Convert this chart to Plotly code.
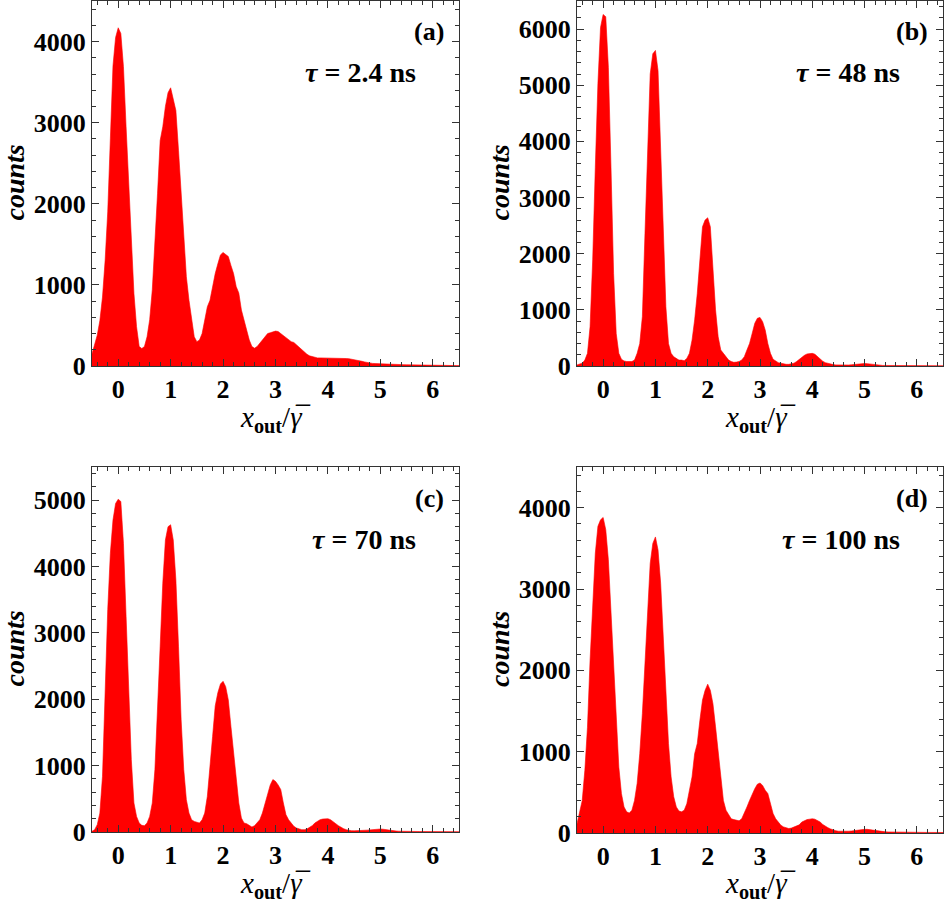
import numpy as np
import plotly.graph_objects as go

# bin centres shared by all four histograms (x_out / gamma-bar)
x_bins = np.round(np.arange(-0.5, 6.5001, 0.05), 2)

counts_a = [
    150, 250, 380, 560, 850, 1300, 1900, 2800, 3700, 4050,
    4170, 4100, 3690, 2950, 2210, 1470, 895, 485, 240, 215,
    240, 360, 570, 940, 1470, 2130, 2780, 2950, 3200, 3370,
    3430, 3300, 3150, 2660, 2170, 1550, 1100, 810, 570, 360,
    300, 320, 400, 570, 730, 810, 980, 1140, 1260, 1370,
    1400, 1380, 1350, 1240, 1140, 980, 900, 690, 570, 440,
    320, 240, 220, 240, 280, 320, 360, 400, 410, 425,
    430, 425, 400, 380, 350, 330, 300, 290, 260, 230,
    200, 165, 145, 125, 115, 105, 100, 100, 100, 100,
    100, 98, 95, 98, 100, 95, 95, 92, 90, 85,
    80, 72, 65, 58, 50, 42, 35, 32, 30, 28,
    25, 24, 22, 22, 20, 20, 20, 18, 18, 16,
    15, 14, 13, 12, 12, 11, 10, 10, 9, 9,
    8, 8, 7, 7, 6, 6, 6, 5, 5, 5,
    5,
]

counts_b = [
    20, 30, 50, 105, 225, 700, 1890, 3540, 5030, 6030,
    6260, 6220, 5320, 3540, 1650, 580, 225, 120, 90, 80,
    80, 80, 105, 225, 400, 880, 2360, 3840, 5200, 5560,
    5620, 5260, 3960, 2360, 1055, 400, 225, 165, 135, 105,
    105, 95, 135, 225, 460, 820, 1290, 1890, 2480, 2600,
    2640, 2480, 1770, 1000, 520, 285, 225, 165, 105, 80,
    65, 70, 80, 105, 165, 285, 400, 580, 760, 850,
    865, 790, 640, 400, 225, 120, 85, 60, 50, 35,
    30, 30, 35, 50, 80, 120, 155, 190, 215, 225,
    225, 210, 165, 120, 85, 60, 45, 35, 25, 20,
    18, 15, 15, 15, 18, 22, 28, 35, 40, 45,
    45, 42, 35, 28, 20, 15, 12, 10, 10, 10,
    9, 9, 8, 8, 8, 7, 7, 7, 6, 6,
    6, 6, 5, 5, 5, 5, 5, 5, 5, 5,
    5,
]

counts_c = [
    10, 35, 110, 285, 840, 2090, 3350, 4200, 4700, 4950,
    5015, 4980, 4350, 3250, 2090, 1090, 437, 235, 135, 100,
    95, 135, 235, 437, 940, 1790, 2800, 3750, 4400, 4600,
    4630, 4400, 3800, 2800, 1690, 940, 487, 285, 185, 160,
    145, 135, 185, 285, 537, 940, 1440, 1900, 2100, 2230,
    2270, 2190, 1990, 1590, 1190, 790, 437, 210, 135, 125,
    95, 75, 95, 135, 185, 285, 437, 587, 710, 790,
    763, 710, 640, 437, 260, 185, 125, 85, 60, 45,
    35, 35, 45, 70, 95, 135, 160, 185, 195, 200,
    200, 185, 160, 125, 95, 70, 50, 35, 25, 20,
    18, 18, 18, 20, 22, 28, 32, 38, 42, 45,
    45, 42, 35, 28, 22, 18, 15, 12, 10, 10,
    9, 9, 8, 8, 8, 7, 7, 7, 6, 6,
    6, 6, 5, 5, 5, 5, 5, 5, 5, 5,
    5,
]

counts_d = [
    115, 240, 400, 770, 1300, 2125, 2860, 3440, 3770, 3850,
    3880, 3730, 3360, 2700, 2000, 1345, 810, 485, 320, 260,
    245, 280, 400, 610, 975, 1470, 2125, 2780, 3315, 3560,
    3640, 3480, 3070, 2410, 1715, 1100, 690, 445, 320, 270,
    260, 280, 360, 525, 690, 975, 1100, 1385, 1635, 1755,
    1830, 1755, 1590, 1305, 975, 650, 400, 280, 220, 175,
    165, 155, 150, 175, 240, 320, 400, 485, 545, 600,
    615, 585, 525, 485, 360, 240, 175, 135, 95, 75,
    65, 55, 60, 75, 80, 100, 135, 155, 165, 170,
    175, 170, 155, 135, 105, 80, 65, 50, 35, 28,
    22, 20, 20, 20, 22, 25, 30, 35, 40, 42,
    45, 45, 40, 35, 28, 22, 18, 15, 14, 13,
    12, 12, 11, 11, 10, 10, 10, 9, 9, 9,
    8, 8, 8, 7, 7, 7, 7, 6, 6, 6,
    6,
]

panel_labels = ["(a)", "(b)", "(c)", "(d)"]
tau_labels = ["<i>τ</i> = 2.4 ns", "<i>τ</i> = 48 ns", "<i>τ</i> = 70 ns", "<i>τ</i> = 100 ns"]
x_title = "<i>x</i><sub><b>out</b></sub>/<i>γ\u0305</i>"
y_title = "counts"
y_max = [4500, 6500, 5500, 4500]
y_ticks = [[0, 1000, 2000, 3000, 4000],
           [0, 1000, 2000, 3000, 4000, 5000, 6000],
           [0, 1000, 2000, 3000, 4000, 5000],
           [0, 1000, 2000, 3000, 4000]]
x_ticks = [0, 1, 2, 3, 4, 5, 6]

W, H = 945, 905
FONT = "Liberation Serif"
FRAME = "#333333"

# pixel boxes of the four plot areas: (left, right, top, bottom)
boxes = [(92, 459, 1, 366), (577, 943, 1, 366),
         (92, 459, 467, 832), (577, 943, 467, 833)]

fig = go.Figure()
all_counts = [counts_a, counts_b, counts_c, counts_d]

for i, (counts, box) in enumerate(zip(all_counts, boxes)):
    n = "" if i == 0 else str(i + 1)
    l, r, t, b = box
    fig.add_trace(go.Scatter(
        x=x_bins, y=counts, mode="lines", fill="tozeroy",
        line=dict(color="#ff0000", width=0.6), fillcolor="#ff0000",
        xaxis="x" + n, yaxis="y" + n, showlegend=False, hoverinfo="skip"))

    axis_common = dict(
        showline=True, mirror="ticks", linecolor=FRAME, linewidth=1,
        ticks="inside", tickcolor=FRAME, ticklen=7, tickwidth=1,
        showgrid=False, zeroline=False, automargin=False,
        tickfont=dict(family=FONT, size=26, color="black", weight="bold"),
    )
    fig.layout["xaxis" + n] = dict(
        axis_common, domain=[l / W, r / W], range=[-0.5, 6.5],
        tickvals=x_ticks, anchor="y" + n,
        minor=dict(dtick=0.2, tick0=0, ticks="inside", ticklen=4, tickcolor=FRAME))
    fig.layout["yaxis" + n] = dict(
        axis_common, domain=[1 - b / H, 1 - t / H], range=[0, y_max[i]],
        tickvals=y_ticks[i], anchor="x" + n,
        minor=dict(dtick=200, tick0=0, ticks="inside", ticklen=4, tickcolor=FRAME))

    cx = (l + r) / 2
    fig.add_annotation(x=cx / W, y=max(0, 1 - (b + 73) / H), xref="paper", yref="paper",
                       text=x_title, showarrow=False,
                       font=dict(family=FONT, size=29, color="black"),
                       xanchor="center", yanchor="bottom")
    fig.add_annotation(x=(l - 78) / W, y=1 - ((t + b) / 2 - 1) / H, xref="paper", yref="paper",
                       text=y_title, textangle=-90, showarrow=False,
                       font=dict(family=FONT, size=28, color="black", style="italic", weight="bold"),
                       xanchor="center", yanchor="middle")
    fig.add_annotation(x=(r - 13) / W, y=1 - (t + 31) / H, xref="paper", yref="paper",
                       text=panel_labels[i], showarrow=False,
                       font=dict(family=FONT, size=26, color="black", weight="bold"),
                       xanchor="right", yanchor="middle")
    fig.add_annotation(x=(r - 41) / W, y=1 - (t + 72) / H, xref="paper", yref="paper",
                       text=tau_labels[i], showarrow=False,
                       font=dict(family=FONT, size=28, color="black", weight="bold"),
                       xanchor="right", yanchor="middle")

fig.update_layout(
    width=W, height=H,
    margin=dict(l=0, r=0, t=0, b=0),
    paper_bgcolor="white", plot_bgcolor="white",
    showlegend=False,
)

# the page body has a default 8px margin; drop it so the figure sits at the corner
fig.write_html("out.html", config={"displayModeBar": False},
               post_script="document.body.style.margin='0';")
